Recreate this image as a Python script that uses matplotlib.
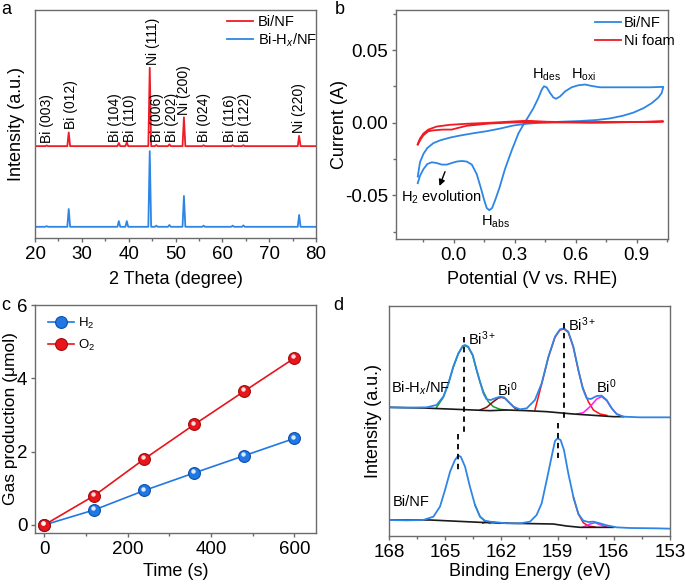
import matplotlib
matplotlib.use("Agg")
import matplotlib.pyplot as plt
from matplotlib.ticker import MultipleLocator, NullLocator
from matplotlib.transforms import offset_copy

plt.rcParams['font.family'] = ['Liberation Sans', 'DejaVu Sans']
plt.rcParams['mathtext.fontset'] = 'custom'
plt.rcParams['mathtext.rm'] = 'Liberation Sans'
plt.rcParams['mathtext.it'] = 'Liberation Sans:italic'
plt.rcParams['mathtext.bf'] = 'Liberation Sans:bold'

# ---------------- data ----------------
# (a) XRD
xrd_peak_pos = [22.5, 27.2, 37.9, 39.6, 44.5, 45.9, 48.7, 51.8, 56.0, 62.2, 64.5, 76.4]
xrd_red_heights = [0.3, 6.0, 1.4, 1.7, 34.3, 0.5, 0.8, 12.6, 0.4, 0.4, 0.4, 4.5]
xrd_blue_heights = [0.3, 7.8, 2.5, 2.5, 33.1, 0.5, 0.8, 13.5, 0.5, 0.5, 0.6, 5.2]
xrd_red_base = 40.2
xrd_blue_base = 4.9
xrd_labels = ['Bi (003)', 'Bi (012)', 'Bi (104)', 'Bi (110)', 'Ni (111)', 'Bi (006)',
              'Bi (202)', 'Ni (200)', 'Bi (024)', 'Bi (116)', 'Bi (122)', 'Ni (220)']
xrd_label_x = [22.5, 27.6, 37.1, 40.3, 45.1, 46.0, 49.2, 51.9, 56.1, 61.6, 64.8, 76.4]
xrd_label_y = [41.5, 47.7, 42.0, 42.0, 75.6, 42.0, 42.0, 53.8, 42.0, 42.0, 42.0, 45.9]

# (b) CV
cv_bi_v = [-0.177, -0.166, -0.149, -0.130, -0.108, -0.084, -0.059, -0.034, -0.010, 0.015, 0.039,
           0.064, 0.089, 0.113, 0.133, 0.149, 0.162, 0.175, 0.189, 0.205, 0.225, 0.252, 0.285,
           0.318, 0.343, 0.367, 0.392, 0.416, 0.433, 0.444, 0.457, 0.474, 0.490, 0.503, 0.523,
           0.548, 0.580, 0.613, 0.646, 0.679, 0.720, 0.834, 0.966, 1.031,
           1.023, 1.007, 0.974, 0.933, 0.884, 0.834, 0.769, 0.703, 0.621, 0.523, 0.425, 0.359,
           0.293, 0.228, 0.162, 0.097, 0.031, -0.018, -0.067, -0.100, -0.130, -0.149, -0.166, -0.177]
cv_bi_i = [-0.0416, -0.0365, -0.0319, -0.0284, -0.0272, -0.0277, -0.0288, -0.0288, -0.0277, -0.0267,
           -0.0263, -0.0267, -0.0288, -0.0353, -0.0447, -0.0528, -0.0586, -0.0602, -0.0586, -0.0528,
           -0.0447, -0.0319, -0.0191, -0.0074, -0.0012, 0.0042, 0.0100, 0.0170, 0.0228, 0.0251,
           0.0244, 0.0205, 0.0174, 0.0165, 0.0181, 0.0216, 0.0244, 0.0258, 0.0263, 0.0253, 0.0244,
           0.0244, 0.0244, 0.0247,
           0.0205, 0.0174, 0.0135, 0.0100, 0.0070, 0.0049, 0.0030, 0.0019, 0.0012, 0.0007, 0.0,
           -0.0007, -0.0019, -0.0040, -0.0058, -0.0072, -0.0088, -0.0102, -0.0121, -0.0140, -0.0174,
           -0.0214, -0.0272, -0.0370]
cv_ni_v = [-0.177, -0.166, -0.149, -0.125, -0.092, -0.051, -0.010, 0.023, 0.064, 0.179, 0.293,
           0.425, 0.752, 1.031,
           0.916, 0.670, 0.457, 0.359, 0.293, 0.179, 0.064, -0.018, -0.084, -0.125, -0.149, -0.166, -0.177]
cv_ni_i = [-0.0151, -0.0121, -0.0086, -0.0058, -0.0051, -0.0047, -0.0047, -0.0035, -0.0021, -0.0005,
           0.0002, 0.0002, 0.0002, 0.0009,
           0.0005, 0.0002, 0.0007, 0.0014, 0.0009, 0.0, -0.0007, -0.0014, -0.0026, -0.0047, -0.0074,
           -0.0109, -0.0147]

# (c) gas production
time_s = [0, 120, 240, 360, 480, 600]
h2_umol = [0.0, 0.41, 0.94, 1.42, 1.89, 2.36]
o2_umol = [0.0, 0.80, 1.80, 2.74, 3.65, 4.55]

# (d) XPS Bi 4f
xps_top_be = [168.00, 167.06, 165.99, 165.46, 165.10, 164.83, 164.57, 164.30, 164.07, 163.94, 163.77,
              163.53, 163.32, 163.14, 162.96, 162.79, 162.57, 162.34, 162.07, 161.86, 161.63, 161.36,
              161.01, 160.65, 160.21, 159.85, 159.49, 159.14, 158.87, 158.66, 158.43, 158.16, 157.89,
              157.66, 157.45, 157.23, 156.91, 156.65, 156.38, 156.11, 155.85, 155.49, 154.60, 153.00]
xps_top_int = [386, 385, 386, 393, 418, 458, 508, 548, 570, 573, 568, 543, 498, 463, 428, 410, 408,
               413, 418, 416, 403, 388, 380, 383, 408, 458, 538, 598, 620, 623, 613, 568, 498, 443,
               413, 411, 420, 421, 408, 383, 366, 358, 356, 356]
xps_top_bg_be = [168.00, 166.17, 165.28, 163.50, 162.61, 161.72, 160.65, 159.58, 158.16, 157.09, 156.02, 155.49]
xps_top_bg_int = [386, 384, 382, 378, 376, 378, 376, 373, 366, 362, 358, 358]
xps_top_g_be = [165.46, 165.10, 164.83, 164.57, 164.30, 164.07, 163.94, 163.77, 163.53, 163.32, 163.14,
                162.96, 162.70, 162.43, 162.07, 161.72]
xps_top_g_int = [386, 416, 456, 506, 546, 568, 571, 566, 541, 496, 461, 433, 403, 388, 380, 378]
xps_top_dr_be = [163.14, 162.79, 162.43, 162.16, 161.99, 161.81, 161.54, 161.27, 161.01]
xps_top_dr_int = [378, 386, 403, 414, 416, 413, 398, 383, 378]
xps_top_r_be = [160.21, 159.85, 159.49, 159.14, 158.87, 158.66, 158.43, 158.16, 157.89, 157.66, 157.36,
                157.09, 156.74, 156.38]
xps_top_r_int = [378, 456, 536, 596, 618, 621, 611, 566, 496, 446, 403, 378, 366, 362]
xps_top_m_be = [157.98, 157.63, 157.27, 156.91, 156.65, 156.38, 156.11, 155.85, 155.58]
xps_top_m_int = [366, 370, 388, 411, 418, 406, 383, 366, 360]

xps_bot_be = [168.00, 167.06, 166.17, 165.63, 165.28, 165.01, 164.74, 164.48, 164.30, 164.17, 163.94,
              163.68, 163.41, 163.14, 162.88, 162.61, 162.25, 161.72, 161.01, 160.47, 160.12, 159.85,
              159.58, 159.32, 159.14, 159.00, 158.84, 158.66, 158.43, 158.16, 157.89, 157.63, 157.36,
              157.09, 156.74, 156.38, 155.85, 155.14, 153.71, 153.00]
xps_bot_int = [48, 47, 48, 58, 88, 138, 193, 228, 241, 238, 208, 148, 93, 58, 46, 43, 41, 38, 38, 43,
               63, 98, 168, 238, 285, 293, 288, 258, 188, 118, 66, 46, 42, 43, 38, 32, 26, 24, 23, 22]
xps_bot_bg_be = [168.00, 165.81, 163.14, 161.36, 159.23, 158.52, 157.80, 156.02]
xps_bot_bg_int = [48, 48, 41, 38, 36, 30, 26, 26]
xps_bot_g_be = [163.41, 163.14, 162.88, 162.61]
xps_bot_g_int = [93, 58, 44, 38]
xps_bot_dr_be = [163.0, 162.7, 162.4, 162.1]
xps_bot_dr_int = [39, 43, 41, 38]
xps_bot_r_be = [158.16, 157.89, 157.63, 157.36, 157.00]
xps_bot_r_int = [116, 66, 40, 30, 27]
xps_bot_m_be = [157.63, 157.27, 157.00, 156.74, 156.38]
xps_bot_m_int = [27, 36, 40, 34, 27]
dash_be = [163.98, 158.66, 164.32, 159.00]
dash_top = [598, 638, 306, 340]
dash_bottom = [313, 343, 198, 233]

# ---------------- figure ----------------
W, H = 685, 586
fig = plt.figure(figsize=(W / 100, H / 100), dpi=100)

def add_ax(l, r, t, b):
    return fig.add_axes([l / W, 1 - b / H, (r - l) / W, (b - t) / H])

SPINE = '#6b6b6b'
TFS = 13.5
LFS = 13
RED = '#ee1c25'
BLUE = '#2d86e6'

def style(ax):
    for s in ax.spines.values():
        s.set_color(SPINE)
        s.set_linewidth(1.0)
    ax.tick_params(which='both', direction='out', color=SPINE, labelsize=TFS,
                   top=False, right=False, labelcolor='black', pad=2.5)
    ax.tick_params(which='major', length=3.0, width=1.0)
    ax.tick_params(which='minor', length=2.0, width=1.0)

# (a)
axa = add_ax(35, 316, 9.5, 238)
style(axa)
def xrd_line(base, heights):
    xs, ys = [20.0], [base]
    for p, h in zip(xrd_peak_pos, heights):
        xs += [p - 0.3, p, p + 0.3]
        ys += [base, base + h, base]
    xs.append(80.0)
    ys.append(base)
    return xs, ys
xr, yr = xrd_line(xrd_red_base, xrd_red_heights)
xb, yb = xrd_line(xrd_blue_base, xrd_blue_heights)
axa.plot(xr, yr, color=RED, lw=1.3, label='Bi/NF')
axa.plot(xb, yb, color=BLUE, lw=1.3, label='Bi-H$_x$/NF')
for lab, lx, ly in zip(xrd_labels, xrd_label_x, xrd_label_y):
    axa.text(lx, ly, lab, rotation=90, ha='center', va='bottom', fontsize=10)
axa.set_xlim(20, 80)
axa.set_ylim(0, 100)
axa.xaxis.set_major_locator(MultipleLocator(10))
axa.xaxis.set_minor_locator(MultipleLocator(5))
axa.yaxis.set_major_locator(NullLocator())
axa.set_xlabel('2 Theta (degree)', fontsize=LFS)
axa.set_ylabel('Intensity (a.u.)', fontsize=LFS)
axa.xaxis.set_label_coords(0.5, -0.145)
axa.yaxis.set_label_coords(-0.036, 0.5)
axa.legend(loc='upper left', bbox_to_anchor=((227 - 35) / 281, 1 - (15 - 9.5) / 228.5),
           frameon=False, fontsize=10.5, handlelength=1.8, handletextpad=0.3,
           borderpad=0, borderaxespad=0, labelspacing=0.15)

# (b)
axb = add_ax(396, 668, 10, 239)
style(axb)
axb.plot(cv_bi_v, cv_bi_i, color=BLUE, lw=1.3, label='Bi/NF')
axb.plot(cv_ni_v, cv_ni_i, color=RED, lw=1.3, label='Ni foam')
axb.set_xlim(-0.284, 1.054)
axb.set_ylim(-0.080, 0.0776)
axb.xaxis.set_major_locator(MultipleLocator(0.3))
axb.xaxis.set_minor_locator(MultipleLocator(0.15))
axb.yaxis.set_major_locator(MultipleLocator(0.05))
axb.yaxis.set_minor_locator(MultipleLocator(0.025))
axb.xaxis.set_major_formatter(plt.FuncFormatter(lambda v, p: f'{v:.1f}'))
axb.yaxis.set_major_formatter(plt.FuncFormatter(lambda v, p: f'{v:.2f}'))
axb.set_xlabel('Potential (V vs. RHE)', fontsize=LFS)
axb.set_ylabel('Current (A)', fontsize=LFS)
axb.xaxis.set_label_coords(0.5, -0.14)
axb.yaxis.set_label_coords(-0.178, 0.5)
axb.text(0.457, 0.0328, 'H$_{\\mathrm{des}}$', ha='center', va='center', fontsize=10.5)
axb.text(0.638, 0.0328, 'H$_{\\mathrm{oxi}}$', ha='center', va='center', fontsize=10.5)
axb.text(0.203, -0.0679, 'H$_{\\mathrm{abs}}$', ha='center', va='center', fontsize=10.5)
axb.text(-0.059, -0.0512, 'H$_2$ evolution', ha='center', va='center', fontsize=10.5)
axb.annotate('', xy=(-0.075, -0.0453), xytext=(-0.038, -0.0319),
             arrowprops=dict(arrowstyle='-|>', color='black', lw=1.0, mutation_scale=9))
axb.legend(loc='upper left', bbox_to_anchor=((595 - 396) / 272, 1 - (16 - 10) / 229),
           frameon=False, fontsize=10.5, handlelength=1.75, handletextpad=0.25,
           borderpad=0, borderaxespad=0, labelspacing=0.25)

# (c)
axc = add_ax(35, 316, 305, 533)
style(axc)
def glossy(ax, x, y, color, edge, label):
    ax.plot(x, y, color=color, lw=1.2, marker='o', ms=8.5, mfc=color, mec=edge, mew=0.8,
            label=label, zorder=3)
    tr = offset_copy(ax.transData, fig=fig, x=-1.2, y=1.2, units='points')
    ax.plot(x, y, ls='none', marker='o', ms=3.2, mfc='white', mec='none', alpha=0.85,
            transform=tr, zorder=4)
glossy(axc, time_s, h2_umol, '#1f78e6', '#0b4fa8', 'H$_2$')
glossy(axc, time_s, o2_umol, '#e8151b', '#a00c0f', 'O$_2$')
axc.set_xlim(-22.3, 652)
axc.set_ylim(-0.22, 6)
axc.xaxis.set_major_locator(MultipleLocator(200))
axc.xaxis.set_minor_locator(MultipleLocator(100))
axc.yaxis.set_major_locator(MultipleLocator(2))
axc.set_xlabel('Time (s)', fontsize=LFS)
axc.set_ylabel('Gas production (μmol)', fontsize=12.5)
axc.xaxis.set_label_coords(0.5, -0.13)
axc.yaxis.set_label_coords(-0.062, 0.5)
axc.legend(loc='upper left', bbox_to_anchor=((48 - 35) / 281, 1 - (316 - 305) / 228),
           frameon=False, fontsize=9.5, handlelength=2.0, handletextpad=0.3,
           borderpad=0, borderaxespad=0, labelspacing=0.5)

# (d)
axd = add_ax(389, 670, 306, 536)
style(axd)
KC = '#1a1a1a'
axd.plot(xps_top_g_be, xps_top_g_int, color='#1f9a2a', lw=1.1)
axd.plot(xps_top_dr_be, xps_top_dr_int, color='#8b0a0a', lw=1.1)
axd.plot(xps_top_r_be, xps_top_r_int, color='#ff1010', lw=1.1)
axd.plot(xps_top_m_be, xps_top_m_int, color='#ff1ef0', lw=1.1)
axd.plot(xps_top_bg_be, xps_top_bg_int, color=KC, lw=1.2)
axd.plot(xps_bot_g_be, xps_bot_g_int, color='#1f9a2a', lw=1.1)
axd.plot(xps_bot_dr_be, xps_bot_dr_int, color='#8b0a0a', lw=1.1)
axd.plot(xps_bot_r_be, xps_bot_r_int, color='#ff1010', lw=1.1)
axd.plot(xps_bot_m_be, xps_bot_m_int, color='#ff1ef0', lw=1.1)
axd.plot(xps_bot_bg_be, xps_bot_bg_int, color=KC, lw=1.2)
axd.plot(xps_top_be, xps_top_int, color=BLUE, lw=1.3)
axd.plot(xps_bot_be, xps_bot_int, color=BLUE, lw=1.3)
for bx, t0, t1 in zip(dash_be, dash_top, dash_bottom):
    axd.plot([bx, bx], [t0, t1], color='black', lw=1.3, ls=(0, (3, 2.5)))
axd.text(163.77, 593, 'Bi$^{3+}$', ha='left', va='center', fontsize=10.5)
axd.text(158.43, 633, 'Bi$^{3+}$', ha='left', va='center', fontsize=10.5)
axd.text(161.68, 440, 'Bi$^{0}$', ha='center', va='center', fontsize=10.5)
axd.text(156.38, 448, 'Bi$^{0}$', ha='center', va='center', fontsize=10.5)
axd.text(167.91, 443, 'Bi-H$_x$/NF', ha='left', va='center', fontsize=10.5)
axd.text(167.80, 101, 'Bi/NF', ha='left', va='center', fontsize=10.5)
axd.set_xlim(168, 153)
axd.set_ylim(0, 690)
axd.xaxis.set_major_locator(MultipleLocator(3))
axd.xaxis.set_minor_locator(MultipleLocator(1.5))
axd.yaxis.set_major_locator(NullLocator())
axd.set_xlabel('Binding Energy (eV)', fontsize=LFS)
axd.set_ylabel('Intensity (a.u.)', fontsize=LFS)
axd.xaxis.set_label_coords(0.5, -0.118)
axd.yaxis.set_label_coords(-0.025, 0.5)

# panel letters
for lab, px, py in [('a', 1, 10), ('b', 335, 10), ('c', 1, 305), ('d', 333, 305)]:
    fig.text(px / W, 1 - py / H, lab, fontsize=13, ha='left', va='center')

fig.savefig('out.png', dpi=100)
